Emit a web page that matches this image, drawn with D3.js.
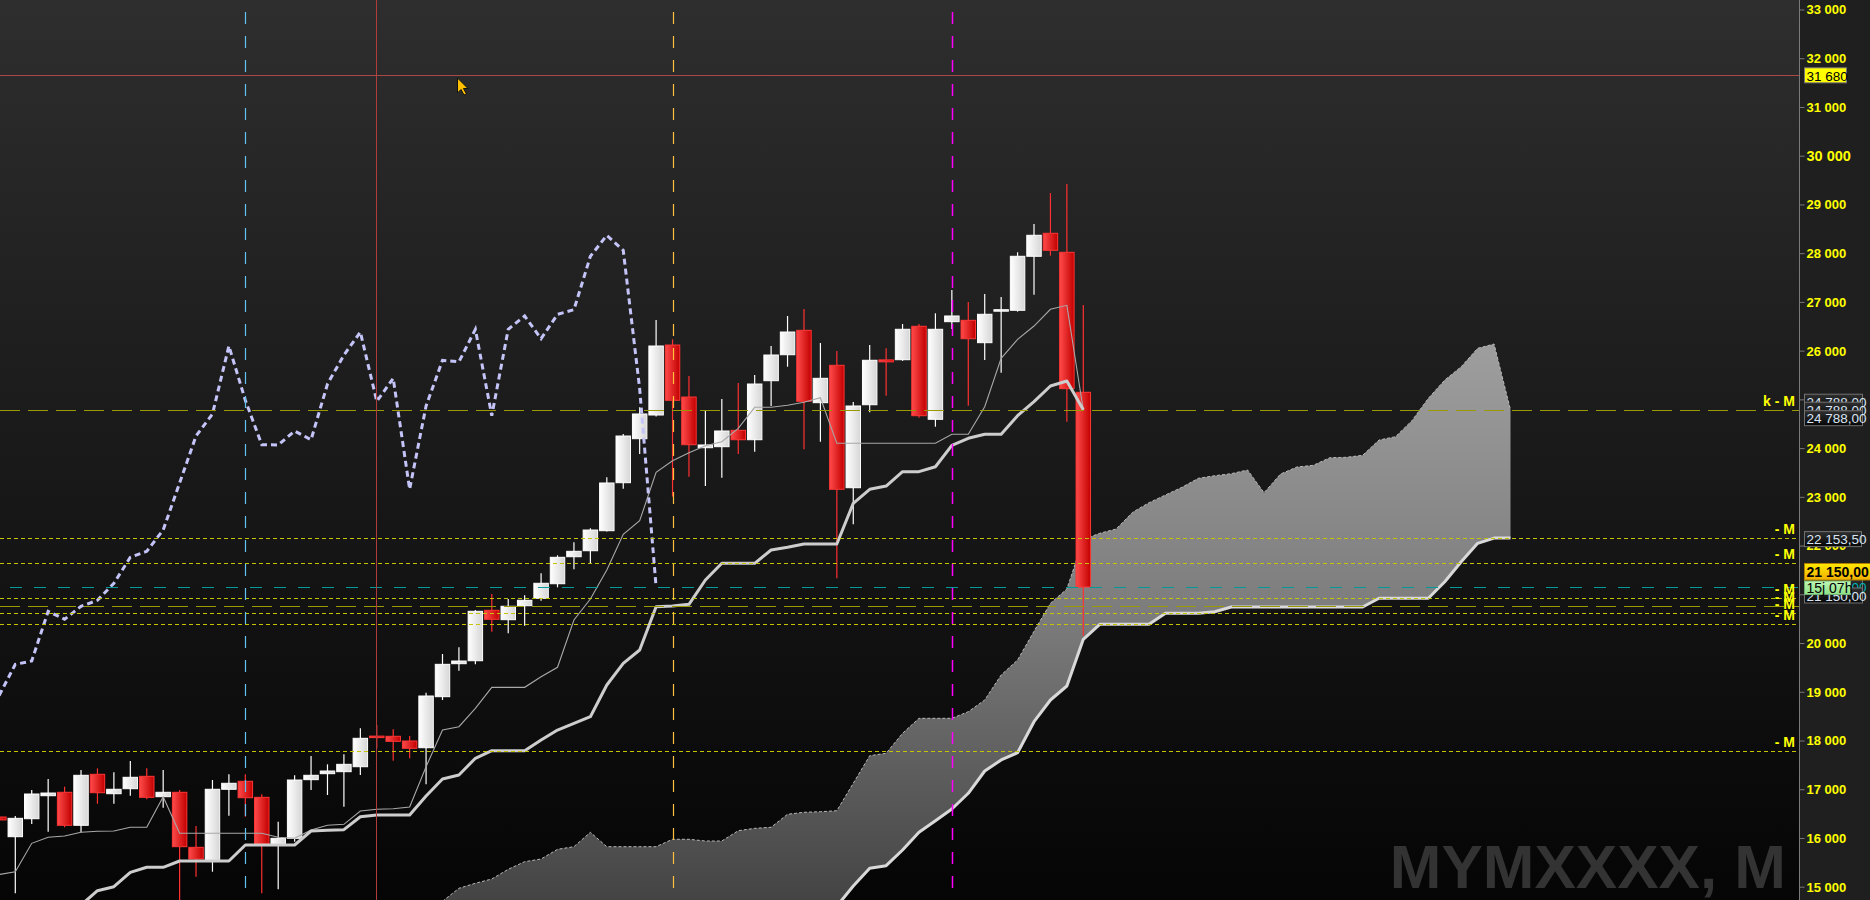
<!DOCTYPE html>
<html><head><meta charset="utf-8">
<script src="https://cdn.jsdelivr.net/npm/d3@7"></script>
<style>html,body{margin:0;padding:0;background:#000;overflow:hidden}svg{display:block}</style>
</head><body><svg id="c" width="1870" height="900"></svg>
<script>
// ---------- DATA ----------
const firstPeriod = -1; // first candle is partially off the left edge
const opens  = [16430,16026,16395,16867,16937,16260,17306,16908,17011,17265,16847,16937,15808,15542,16999,17163,16834,15876,15993,17196,17319,17360,17462,18090,18086,17990,17852,18899,19576,19637,20672,20479,20766,20918,21217,21771,21894,22305,23290,24193,24679,26115,25048,24008,24029,24365,24172,25383,25916,26417,24932,25699,23187,24890,25810,25814,26499,24591,26594,26622,26163,26820,26828,27936,28408,28018,25145];
const highs  = [16520,16449,16984,17210,17052,17395,17429,17347,17579,17429,17395,16984,16245,17189,17306,17306,16896,16334,17286,17682,17511,17717,18250,18318,18230,18092,18981,19775,19912,20678,21006,20903,20979,21431,21800,22067,22354,23401,24289,24837,26629,26232,25479,24761,25007,25336,25500,26095,26711,26854,26157,25992,24946,26115,26048,26546,26546,26766,27244,26998,27162,27100,28018,28598,29235,29419,26936];
const lows   = [16300,14864,16286,16128,16219,16116,16703,16703,16867,16793,16621,14700,15205,15308,16457,16436,14864,14947,15923,16984,16882,16641,17292,17840,17585,17635,17100,18831,19432,19563,20232,20200,20355,20869,21143,21513,21636,22290,23167,23879,24650,23003,23413,23222,23393,23879,23926,24864,25670,23975,24131,21328,22436,24735,25075,25790,24624,24439,26444,24870,25808,25547,26800,27148,27948,24542,20150];
const closes = [16370,16403,16902,16922,16260,17286,16929,16999,17245,16834,16937,15821,15568,16999,17122,16826,15876,15993,17189,17286,17374,17511,18045,18070,17983,17840,18913,19563,19631,20651,20487,20754,20877,21226,21759,21882,22319,23284,24248,24700,26095,24981,24070,24064,24351,24172,25315,25910,26382,24960,25432,23155,24864,25802,25770,26438,24665,26438,26711,26245,26746,26840,27936,28367,28059,25219,21150];

// Tenkan-sen (thin grey) per candle, same periods as candles
const tenkan = [15250,15308,15890,16014,16040,16116,16137,16143,16219,16219,16847,16096,16096,16096,16096,16096,16096,16014,15993,16163,16260,16280,16553,16588,16600,16635,17462,18215,18283,18661,19091,19091,19091,19309,19502,20473,20903,21499,22231,22510,23503,23741,23906,24049,24131,24406,24837,24837,24878,24940,25034,24098,24098,24098,24098,24098,24098,24098,24283,24283,24849,25843,26232,26505,26848,26930,24782];
// Kijun-sen (thick grey) per candle (null = below the visible range)
const kijun = [null,null,null,null,null,14624,14918,15000,15295,15398,15398,15527,15527,15527,15527,15856,15856,15856,15856,16143,16157,16170,16436,16471,16471,16471,16861,17210,17292,17635,17791,17791,17791,18010,18215,18353,18488,19139,19584,19857,20745,20760,20795,21293,21636,21636,21636,21909,21964,22032,22032,22032,22867,23155,23222,23516,23516,23618,24057,24201,24283,24283,24665,24952,25274,25377,24788];

// Cloud: Senkou span A from period 26, Senkou span B from period 49
const senkouAStart = 26;
const senkouA = [14700,14967,15070,15158,15357,15513,15568,15767,15821,16116,15821,15821,15821,15821,15973,15973,15938,15938,16149,16198,16219,16486,16527,16539,16559,17122,17688,17737,18148,18455,18455,18455,18591,18831,19344,19652,20241,20815,21109,22124,22252,22340,22683,22880,23038,23195,23380,23434,23475,23551,23085,23467,23612,23647,23803,23811,23852,24166,24234,24562,25022,25397,25670,26048,26136,24785];
const senkouBStart = 49;
const senkouB = [14300,14600,15014,15377,15431,15753,16116,16354,16594,16917,17374,17600,17750,18386,18831,19118,20077,20384,20384,20384,20384,20610,20610,20610,20643,20740,20740,20740,20740,20740,20740,20740,20740,20740,20918,20918,20918,20918,21258,21669,22046,22153.5,22153.5];
const chikouShift = 26;

// Horizontal levels
const levelPrices = [24788, 22153.5, 21636, 20918, 20760, 20610, 20384, 17791];
const levelLabels = ["k - M", "- M", "- M", "- M", "- M", "- M", "- M", "- M"];
const crossPrice = 31680;
const crossPeriod = 22;
const markerPeriods = [14, 40, 57];
const yTicks = d3.range(15000, 33001, 1000);
const symbolText = "MYMXXXX, M";
const timerText = "15j 07h";

// ---------- SETUP ----------
const W = 1870, H = 900, axisX = 1799;
const svg = d3.select('#c');
const x = d3.scaleLinear().domain([0, 65]).range([15.3, 1083.3]);
const y = d3.scaleLinear().domain([15000, 33000]).range([886.7, 9.5]);
const loc = d3.formatLocale({decimal: ",", thousands: " ", grouping: [3], currency: ["", ""]});
const fmtInt = loc.format(",d");
const fmt2 = loc.format(",.2f");
const FONT = "'Liberation Sans', Arial, sans-serif";

const defs = svg.append('defs');
function lin(id, stops, vertical = true, user = null) {
  const g = defs.append('linearGradient').attr('id', id);
  if (user) {
    g.attr('gradientUnits', 'userSpaceOnUse').attr('x1', 0).attr('x2', 0).attr('y1', user[0]).attr('y2', user[1]);
  } else if (vertical) g.attr('x1', 0).attr('y1', 0).attr('x2', 0).attr('y2', 1);
  else g.attr('x1', 0).attr('y1', 0).attr('x2', 1).attr('y2', 0);
  stops.forEach(s => g.append('stop').attr('offset', s[0]).attr('stop-color', s[1]));
}
lin('bg', [[0, '#2e2e2e'], [1, '#050505']]);
lin('cloud', [[0, '#a0a0a0'], [0.5, '#7c7c7c'], [1, '#444444']], true, [330, 900]);
lin('wbody', [[0, '#ffffff'], [1, '#d6d6d6']], false);
lin('rbody', [[0, '#ff4b4b'], [1, '#c20000']], false);
lin('dbox', [[0, '#303030'], [1, '#050505']]);
lin('ybox', [[0, '#ffe800'], [1, '#f2b000']]);
lin('gbox', [[0, '#bff7b5'], [1, '#8fe08a']]);
defs.append('clipPath').attr('id', 'clip').append('rect').attr('x', 0).attr('y', 0).attr('width', axisX).attr('height', H);

svg.append('rect').attr('x', 0).attr('y', 0).attr('width', axisX).attr('height', H).attr('fill', 'url(#bg)');
svg.append('rect').attr('x', axisX).attr('y', 0).attr('width', W - axisX).attr('height', H).attr('fill', '#1f1f1f');

const g = svg.append('g').attr('clip-path', 'url(#clip)');

// watermark
g.append('text').attr('x', 1786).attr('y', 888).attr('text-anchor', 'end')
  .attr('font-family', FONT).attr('font-weight', 'bold').attr('font-size', 62)
  .attr('fill', '#333333').text(symbolText);

// cloud
const periods = d3.range(senkouAStart, senkouAStart + senkouA.length);
const cloudData = periods.map((p, k) => ({
  p, a: senkouA[k],
  b: (p >= senkouBStart) ? senkouB[p - senkouBStart] : null
}));
g.append('path').datum(cloudData)
  .attr('d', d3.area().x(d => x(d.p)).y0(d => y(d.a)).y1(d => d.b == null ? H + 40 : y(d.b)))
  .attr('fill', 'url(#cloud)');
g.append('path').datum(cloudData)
  .attr('d', d3.line().x(d => x(d.p)).y(d => y(d.a)))
  .attr('fill', 'none').attr('stroke', '#b8b8b8').attr('stroke-width', 1).attr('stroke-dasharray', '3,2');
g.append('path').datum(cloudData.filter(d => d.b != null))
  .attr('d', d3.line().x(d => x(d.p)).y(d => y(d.b)))
  .attr('fill', 'none').attr('stroke', '#d9d9d9').attr('stroke-width', 3).attr('stroke-linejoin', 'round');

// candles
const candles = opens.map((o, k) => ({p: firstPeriod + k, o, h: highs[k], l: lows[k], c: closes[k]}));
const step = x(1) - x(0);
const bw = step * 0.88;
const cg = g.append('g');
cg.selectAll('line.wick').data(candles).join('line')
  .attr('x1', d => x(d.p)).attr('x2', d => x(d.p))
  .attr('y1', d => y(d.h)).attr('y2', d => y(d.l))
  .attr('stroke', d => d.c >= d.o ? '#ffffff' : '#ff3030').attr('stroke-width', 1.2);
cg.selectAll('rect.body').data(candles).join('rect')
  .attr('x', d => x(d.p) - bw / 2).attr('width', bw)
  .attr('y', d => y(Math.max(d.o, d.c)))
  .attr('height', d => Math.max(1.5, Math.abs(y(d.o) - y(d.c))))
  .attr('fill', d => d.c >= d.o ? 'url(#wbody)' : 'url(#rbody)')
  .attr('stroke', d => d.c >= d.o ? '#ffffff' : '#ff3535').attr('stroke-width', 1);

// tenkan / kijun / chikou
const tData = tenkan.map((v, k) => ({p: firstPeriod + k, v}));
g.append('path').datum(tData)
  .attr('d', d3.line().x(d => x(d.p)).y(d => y(d.v)))
  .attr('fill', 'none').attr('stroke', '#a8a8a8').attr('stroke-width', 1.1);
const kData = kijun.map((v, k) => ({p: firstPeriod + k, v}));
g.append('path').datum(kData)
  .attr('d', d3.line().defined(d => d.v != null).x(d => x(d.p)).y(d => y(d.v)))
  .attr('fill', 'none').attr('stroke', '#cdcdcd').attr('stroke-width', 3).attr('stroke-linejoin', 'round');
const chData = closes.map((v, k) => ({p: firstPeriod + k - chikouShift, v}));
g.append('path').datum(chData)
  .attr('d', d3.line().x(d => x(d.p)).y(d => y(d.v)))
  .attr('fill', 'none').attr('stroke', '#c4c4f8').attr('stroke-width', 3).attr('stroke-dasharray', '6,4');

// horizontal levels
const longIdx = new Set([0, 4]);
levelPrices.forEach((v, k) => {
  const yy = Math.round(y(v)) + 0.5;
  g.append('line').attr('x1', 0).attr('x2', axisX).attr('y1', yy).attr('y2', yy)
    .attr('stroke', longIdx.has(k) ? '#9a9a00' : '#c4c400')
    .attr('stroke-width', 1)
    .attr('stroke-dasharray', longIdx.has(k) ? '20,8' : '4,3');
});
// current price line
const last = closes[closes.length - 1];
g.append('line').attr('x1', 0).attr('x2', axisX + 5).attr('y1', Math.round(y(last)) + 0.5).attr('y2', Math.round(y(last)) + 0.5)
  .attr('stroke', '#009a9a').attr('stroke-width', 1).attr('stroke-dasharray', '12,12').attr('stroke-dashoffset', -10);

// vertical markers
const mColors = ['#62c2f2', '#ffc040', '#ff00ff'];
markerPeriods.forEach((p, k) => {
  const xx = Math.round(x(p)) + 0.5;
  g.append('line').attr('x1', xx).attr('x2', xx).attr('y1', 0).attr('y2', 888)
    .attr('stroke', mColors[k]).attr('stroke-width', k === 2 ? 1.5 : 1.2)
    .attr('stroke-dasharray', '12,12').attr('stroke-dashoffset', -12);
});
// crosshair
const cy = Math.round(y(crossPrice)) + 1.5, cx = Math.round(x(crossPeriod)) - 0.5;
svg.append('line').attr('x1', 0).attr('x2', axisX).attr('y1', cy).attr('y2', cy).attr('stroke', '#a84848').attr('stroke-width', 1);
g.append('line').attr('x1', cx).attr('x2', cx).attr('y1', 0).attr('y2', H).attr('stroke', '#b03c3c').attr('stroke-width', 1);

// level labels
levelPrices.forEach((v, k) => {
  g.append('text').attr('x', 1795).attr('y', y(v) - 4).attr('text-anchor', 'end')
    .attr('font-family', FONT).attr('font-weight', 'bold').attr('font-size', 14)
    .attr('fill', '#ffff00').text(levelLabels[k]);
});

// mouse cursor
g.append('path').attr('d', 'M457.5,78 L457.5,93 L461,89.5 L464,95 L466.5,94 L463.5,88.5 L468,88.5 Z')
  .attr('fill', '#ffc000').attr('stroke', '#111').attr('stroke-width', 1);

// axis
svg.append('line').attr('x1', axisX + 0.5).attr('x2', axisX + 0.5).attr('y1', 0).attr('y2', H).attr('stroke', '#7a7a7a');
const ax = svg.append('g').attr('transform', `translate(${axisX + 0.5},0)`)
  .call(d3.axisRight(y).tickValues(yTicks).tickSize(5).tickPadding(2).tickFormat(fmtInt));
ax.select('.domain').remove();
ax.selectAll('.tick line').attr('stroke', '#7a7a7a');
ax.selectAll('.tick text').attr('fill', '#ffff00').attr('font-family', FONT).attr('font-weight', 'bold')
  .attr('font-size', d => d === 30000 ? 14.5 : 13).attr('dy', '0.34em');

// price boxes
function box(yTop, h, w, fill, stroke, txt, color, bold, size) {
  const bg = svg.append('g');
  bg.append('rect').attr('x', 1804.5).attr('y', yTop + 0.5).attr('width', w).attr('height', h)
    .attr('fill', fill).attr('stroke', stroke).attr('stroke-width', 1);
  bg.append('text').attr('x', 1806.5).attr('y', yTop + h / 2 + 1).attr('dy', '0.35em')
    .attr('font-family', FONT).attr('font-weight', bold ? 'bold' : 'normal').attr('font-size', size)
    .attr('fill', color).text(txt);
}
const kv = levelPrices[0];
box(y(kv) - 16, 15, 58, 'url(#dbox)', '#707070', fmt2(kv), '#d8e4f4', false, 13.5);
box(y(kv) - 8, 15, 58, 'url(#dbox)', '#707070', fmt2(kv), '#d8e4f4', false, 13.5);
box(y(kv) + 0.5, 15, 58, 'url(#dbox)', '#707070', fmt2(kv), '#d8e4f4', false, 13.5);
box(y(levelPrices[1]) - 7, 15, 57, 'url(#dbox)', '#707070', fmt2(levelPrices[1]), '#d8e4f4', false, 13.5);
box(y(last) - 8, 15, 58, 'url(#dbox)', '#707070', fmt2(last), '#00b4b4', false, 13.5);
box(y(last) + 0.5, 15, 58, 'url(#dbox)', '#707070', fmt2(last), '#d8e4f4', false, 13.5);
box(y(last) - 6.5, 13.5, 46, 'url(#gbox)', '#70b070', timerText, '#000000', false, 14);
box(y(last) - 24, 16.5, 70, 'url(#ybox)', '#b08000', fmt2(last), '#000000', true, 14);
box(y(crossPrice) - 6.5, 15, 42, '#ffff00', '#777777', fmtInt(crossPrice), '#000000', false, 13.5);
</script>
</body></html>
